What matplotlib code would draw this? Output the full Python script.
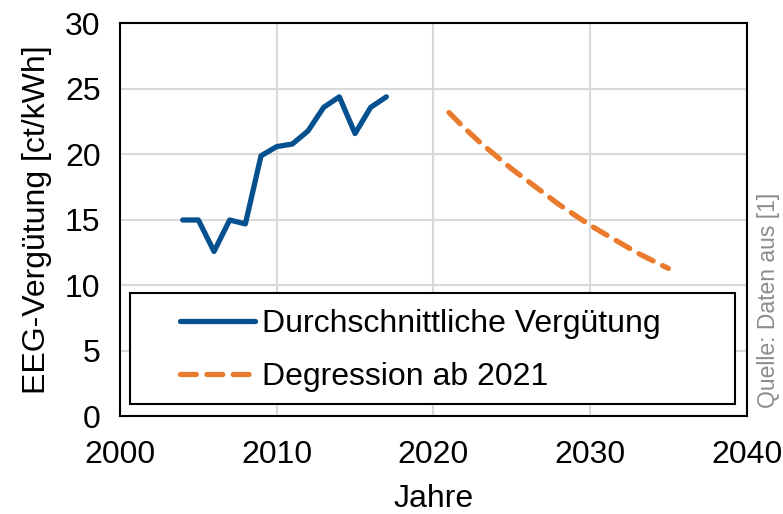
import matplotlib.pyplot as plt
from matplotlib.patches import Rectangle

plt.rcParams['font.family'] = ['Liberation Sans', 'DejaVu Sans']

# Durchschnittliche Vergütung
jahre_hist = [2004, 2005, 2006, 2007, 2008, 2009, 2010, 2011, 2012, 2013, 2014, 2015, 2016, 2017]
verguetung = [15.0, 15.0, 12.6, 15.0, 14.7, 19.9, 20.6, 20.8, 21.8, 23.6, 24.4, 21.6, 23.6, 24.4]

# Degression ab 2021
jahre_deg = [2021, 2022, 2023, 2024, 2025, 2026, 2027, 2028, 2029, 2030, 2031, 2032, 2033, 2034, 2035]
degression = [23.2, 22.0, 20.9, 19.9, 18.9, 18.0, 17.1, 16.2, 15.4, 14.6, 13.9, 13.2, 12.5, 11.9, 11.3]

x_ticks = [2000, 2010, 2020, 2030, 2040]
y_ticks = [0, 5, 10, 15, 20, 25, 30]

fig = plt.figure(figsize=(7.83, 5.14), dpi=100)
ax = fig.add_axes([0.1533, 0.1897, 0.8003, 0.7646])

ax.plot(jahre_hist, verguetung, color='#05508F', lw=3.8,
        solid_capstyle='round', solid_joinstyle='round',
        label='Durchschnittliche Vergütung')
ax.plot(jahre_deg, degression, color='#EA7B2C', lw=3.8,
        dashes=(3.0, 2.0), dash_capstyle='round',
        label='Degression ab 2021')

ax.set_xlim(2000, 2040)
ax.set_ylim(0, 30)
ax.set_xticks(x_ticks)
ax.set_yticks(y_ticks)
ax.tick_params(length=0, labelsize=23)
ax.tick_params(axis='x', pad=17)
ax.tick_params(axis='y', pad=14)
ax.grid(color='#D9D9D9', lw=1.5)
ax.set_axisbelow(True)
for s in ax.spines.values():
    s.set_color('black')
    s.set_linewidth(1.5)

ax.set_xlabel('Jahre', fontsize=23, labelpad=10)
ax.set_ylabel('EEG-Vergütung [ct/kWh]', fontsize=23, labelpad=9)

# Legendenrahmen
box = Rectangle((0.016, 0.032), 0.965, 0.282, transform=ax.transAxes,
                facecolor='white', edgecolor='black', lw=1.5, zorder=4)
ax.add_patch(box)
leg = ax.legend(loc='center left', bbox_to_anchor=(0.096, 0.167),
                fontsize=23, frameon=False, handlelength=2.35,
                handletextpad=0.2, borderpad=0, labelspacing=0.72,
                borderaxespad=0)
leg.set_zorder(5)

fig.text(0.981, 0.415, 'Quelle: Daten aus [1]', rotation=90, color='#8C8C8C',
         fontsize=16.5, ha='center', va='center')

fig.savefig('out.png', dpi=100)
